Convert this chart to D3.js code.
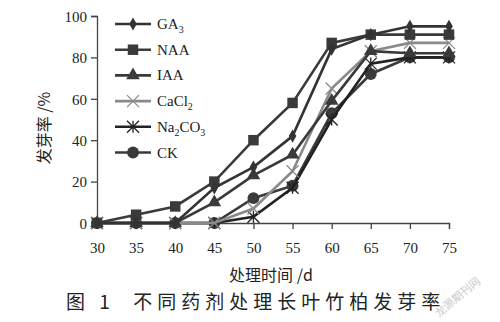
<!DOCTYPE html>
<html>
<head>
<meta charset="utf-8">
<script src="https://cdn.jsdelivr.net/npm/d3@7"></script>
<style>
  body { margin: 0; background: #fff; }
  svg { display: block; }
  .tick text { font-family: "Liberation Serif", "DejaVu Serif", serif; font-size: 15px; fill: #222; }
</style>
</head>
<body>
<div id="chart"></div>
<script>
const days = [30, 35, 40, 45, 50, 55, 60, 65, 70, 75]
const ga3 = [0, 0, 0, 17, 27, 42, 84, 91, 95, 95]
const naa = [0, 4, 8, 20, 40, 58, 87, 91, 91, 91]
const iaa = [0, 0, 0, 10, 23, 33, 59, 83, 82, 82]
const cacl2 = [0, 0, 0, 0, 7, 25, 65, 83, 87, 87]
const na2co3 = [0, 0, 0, 0, 3, 17, 50, 77, 80, 80]
const ck = [0, 0, 0, 0, 12, 18, 53, 72, 80, 80]
const yTicks = [0, 20, 40, 60, 80, 100]

const series = [
  { name: "GA", sub: "3", after: "", values: ga3, symbol: "diamond", color: "#333" },
  { name: "NAA", sub: "", after: "", values: naa, symbol: "square", color: "#3a3a3a" },
  { name: "IAA", sub: "", after: "", values: iaa, symbol: "triangle", color: "#3a3a3a" },
  { name: "CaCl", sub: "2", after: "", values: cacl2, symbol: "x", color: "#8a8a8a" },
  { name: "Na", sub: "2", after: "CO", sub2: "3", values: na2co3, symbol: "asterisk", color: "#222" },
  { name: "CK", sub: "", after: "", values: ck, symbol: "circle", color: "#3a3a3a" }
]

const W = 500, H = 322
const margin = { left: 97, right: 51, top: 16, bottom: 99 }

const svg = d3.select("#chart").append("svg")
  .attr("width", W).attr("height", H)

const x = d3.scaleLinear().domain([30, 75]).range([margin.left, W - margin.right])
const y = d3.scaleLinear().domain([0, 100]).range([H - margin.bottom, margin.top])

// axes
const xAxis = svg.append("g")
  .attr("transform", `translate(0,${y(0)})`)
  .call(d3.axisBottom(x).tickValues(days).tickSize(6).tickPadding(10))
const yAxis = svg.append("g")
  .attr("transform", `translate(${x(30)},0)`)
  .call(d3.axisLeft(y).tickValues(yTicks).tickSize(6).tickPadding(4))
svg.selectAll(".domain, .tick line").attr("stroke", "#444").attr("stroke-width", 1.3)
xAxis.selectAll(".tick text").attr("dy", "0.9em")
yAxis.selectAll(".tick text").attr("dy", "0.35em")

function drawMarker(g, type, color, cx, cy) {
  if (type === "x" || type === "asterisk") {
    const r = 6
    g.append("path")
      .attr("d", `M${cx - r},${cy - r}L${cx + r},${cy + r}M${cx - r},${cy + r}L${cx + r},${cy - r}` +
        (type === "asterisk" ? `M${cx},${cy - r}L${cx},${cy + r}` : ""))
      .attr("stroke", color).attr("stroke-width", 1.3).attr("fill", "none")
    return
  }
  const sym = {
    diamond: [d3.symbolDiamond, 50],
    square: [d3.symbolSquare, 110],
    triangle: [d3.symbolTriangle, 80],
    circle: [d3.symbolCircle, 110]
  }[type]
  g.append("path")
    .attr("d", d3.symbol().type(sym[0]).size(sym[1])())
    .attr("transform", `translate(${cx},${cy})`)
    .attr("fill", color)
}

const line = d3.line()
  .x((d, i) => x(days[i]))
  .y(d => y(d))

// lines, drawn bottom-up so dark lines sit over the grey one like the original
const order = [5, 4, 3, 2, 1, 0]
order.forEach(k => {
  const s = series[k]
  const g = svg.append("g")
  g.append("path")
    .attr("d", line(s.values))
    .attr("fill", "none")
    .attr("stroke", s.color)
    .attr("stroke-width", 2.6)
  s.values.forEach((v, i) => drawMarker(g, s.symbol, s.color, x(days[i]), y(v)))
})

// legend
const legend = svg.append("g")
series.forEach((s, i) => {
  const ly = 24 + i * 25.7
  legend.append("line")
    .attr("x1", 115).attr("x2", 151).attr("y1", ly).attr("y2", ly)
    .attr("stroke", s.color).attr("stroke-width", 2.6)
  drawMarker(legend, s.symbol, s.color, 133, ly)
  const t = legend.append("text")
    .attr("x", 157).attr("y", ly + 5)
    .attr("font-family", "Liberation Serif, serif")
    .attr("font-size", 15).attr("fill", "#222")
  t.append("tspan").text(s.name)
  if (s.sub) t.append("tspan").attr("font-size", 10).attr("dy", 4).text(s.sub)
  if (s.after) t.append("tspan").attr("dy", -4).text(s.after)
  if (s.sub2) t.append("tspan").attr("font-size", 10).attr("dy", 4).text(s.sub2)
})

// axis titles
svg.append("text")
  .attr("transform", `translate(50,128) rotate(-90)`)
  .attr("text-anchor", "middle")
  .attr("font-family", "Noto Sans CJK SC, sans-serif")
  .attr("font-size", 16).attr("fill", "#222")
  .text("发芽率 /%")

svg.append("text")
  .attr("x", 271).attr("y", 281)
  .attr("text-anchor", "middle")
  .attr("font-family", "Noto Sans CJK SC, sans-serif")
  .attr("font-size", 16).attr("fill", "#222")
  .text("处理时间 /d")

// caption
svg.append("text")
  .attr("x", 66).attr("y", 309)
  .attr("font-family", "Noto Sans CJK SC, sans-serif")
  .attr("font-size", 19).attr("fill", "#222")
  .attr("letter-spacing", 5)
  .attr("xml:space", "preserve")
  .text("图 1  不同药剂处理长叶竹柏发芽率")

// watermark
svg.append("text")
  .attr("transform", "translate(460,300) rotate(-40)")
  .attr("text-anchor", "middle")
  .attr("font-family", "Noto Sans CJK SC, sans-serif")
  .attr("font-size", 11).attr("fill", "#ccc")
  .text("龙源期刊网")
</script>
</body>
</html>
